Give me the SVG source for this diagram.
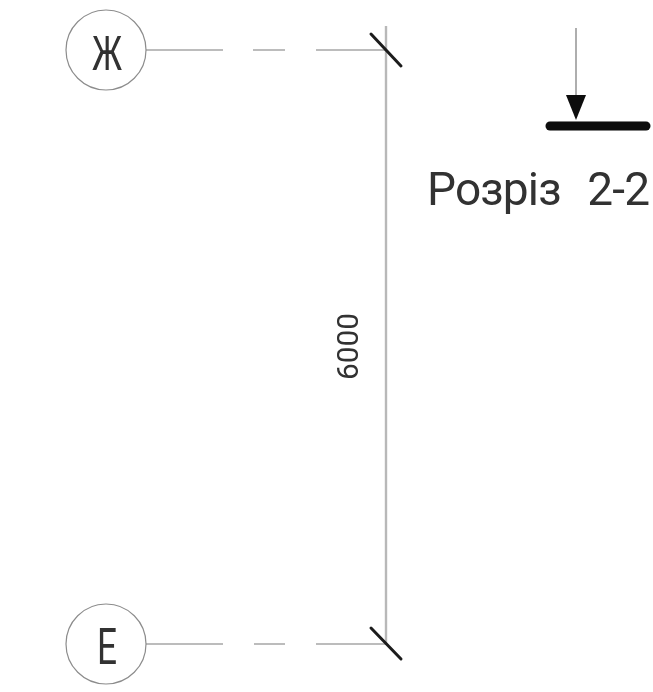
<svg xmlns="http://www.w3.org/2000/svg" width="653" height="692" viewBox="0 0 653 692">
<style>
.bg{fill:#fff}
.bubble{fill:none;stroke:#8c8c8c;stroke-width:1.2}
.axis{fill:none;stroke:#a6a6a6;stroke-width:1.6}
.dim{fill:none;stroke:#b8b8b8;stroke-width:2.4}
.tick{fill:none;stroke:#1c1c1c;stroke-width:3;stroke-linecap:round}
.t{font-family:"Roboto","Liberation Sans",sans-serif;font-weight:400;fill:#303030}
</style>
<defs><filter id="soft" x="0" y="0" width="100%" height="100%" filterUnits="userSpaceOnUse"><feGaussianBlur stdDeviation="0.6"/></filter></defs>
<rect class="bg" width="653" height="692"/>
<g filter="url(#soft)">
<g id="connectors">
<line class="dim" x1="386" y1="26" x2="386" y2="645"/>
<path class="axis" d="M146 50H223M253 50H285M316 50H386"/>
<path class="axis" d="M146 644H223M254 644H285M316 644H386"/>
<line class="tick" x1="371" y1="34" x2="401" y2="66"/>
<line class="tick" x1="371" y1="628" x2="401" y2="659"/>
</g>
<g id="axis-zh">
<circle class="bubble" cx="106" cy="50" r="40"/>
<text class="t" x="107" y="70" font-size="49" text-anchor="middle" textLength="30" lengthAdjust="spacingAndGlyphs">Ж</text>
</g>
<g id="axis-e">
<circle class="bubble" cx="106" cy="644" r="40"/>
<text class="t" x="107" y="664" font-size="50" text-anchor="middle" textLength="20" lengthAdjust="spacingAndGlyphs">E</text>
</g>
<g id="dimension">
<text class="t" transform="translate(358 380) rotate(-90)" font-size="30" textLength="67" lengthAdjust="spacingAndGlyphs">6000</text>
</g>
<g id="section-mark">
<line x1="576" y1="28" x2="576" y2="100" stroke="#8c8c8c" stroke-width="1.4"/>
<polygon points="566,95 586,95 576,120" fill="#111"/>
<line x1="550" y1="126" x2="646" y2="126" stroke="#0c0c0c" stroke-width="9" stroke-linecap="round"/>
<text class="t" x="427" y="205" font-size="46" word-spacing="16" textLength="223" lengthAdjust="spacing">Розріз 2-2</text>
</g>
</g>
</svg>
